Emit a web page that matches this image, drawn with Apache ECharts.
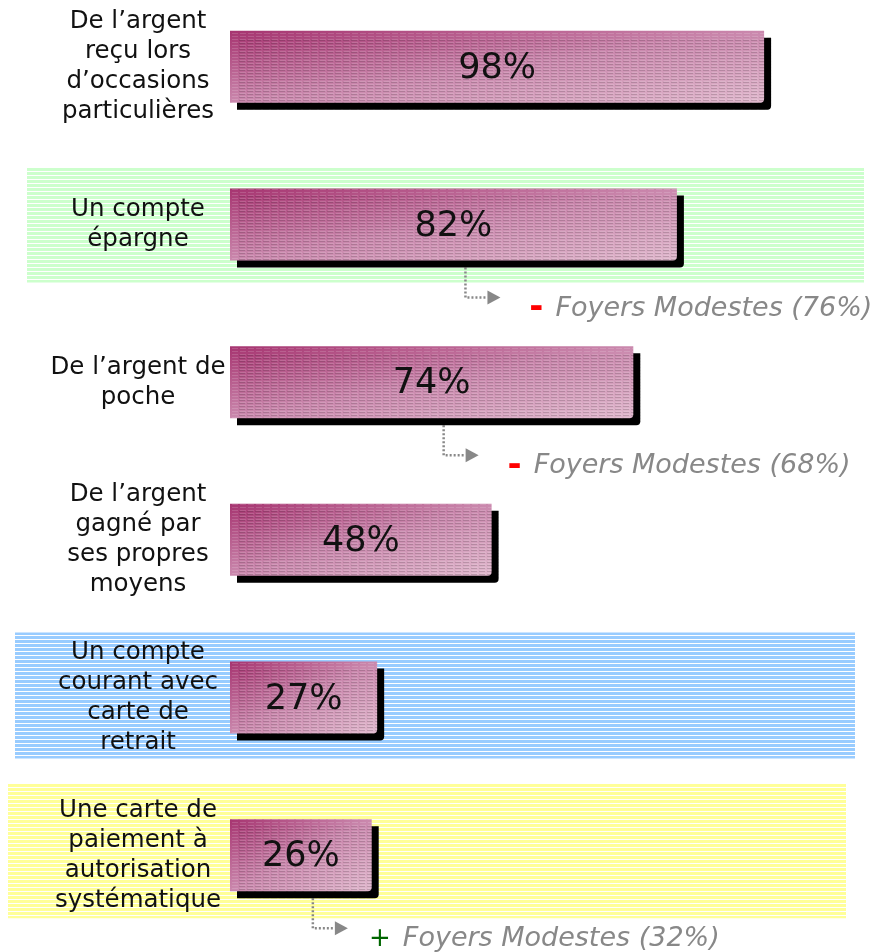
<!DOCTYPE html>
<html lang="fr">
<head>
<meta charset="UTF-8">
<title>Ressources des jeunes</title>
<script src="https://cdn.jsdelivr.net/npm/echarts@6/dist/echarts.min.js"></script>
<style>
    html, body {margin: 0; padding: 0; background: #fff; overflow: hidden;}
    /* shifted up a little so the first row sits as high as in the original */
    #main {position: absolute; left: 0; top: -12px; width: 872px; height: 964px;}
</style>
</head>
<body>
<div id="main"></div>
<script>
// categories (top to bottom) and percentages
var categories = [
    "De l’argent\nreçu lors\nd’occasions\nparticulières",
    "Un compte\népargne",
    "De l’argent de\npoche",
    "De l’argent\ngagné par\nses propres\nmoyens",
    "Un compte\ncourant avec\ncarte de\nretrait",
    "Une carte de\npaiement à\nautorisation\nsystématique"
];
var values = [98, 82, 74, 48, 27, 26];

// "Foyers Modestes" comparisons
var noteRows = [1, 2, 5];
var noteSigns = ['-', '-', '+'];
var noteSignColors = ['#ff0000', '#ff0000', '#006600'];
var noteValues = [76, 68, 32];

// highlighted rows
var bandRows = [1, 4, 5];
var bandColors = ['#ccffcc', '#99ccff', '#ffff99'];
// layout of each band: left, right, top/bottom offset from row centre
var bandBoxes = [[27, 864, -57, 58], [15, 855, -65, 61], [8, 846, -72, 63]];

var barH = 72;
var pxPerPct = 5.45;

function stripes(color) {
    var c = document.createElement('canvas');
    c.width = 4;
    c.height = 4;
    var ctx = c.getContext('2d');
    ctx.fillStyle = '#ffffff';
    ctx.fillRect(0, 0, 4, 4);
    ctx.fillStyle = color;
    ctx.fillRect(0, 0, 4, 3);
    return c;
}

// diagonal gradient: dark top-left corner, light bottom-right corner
function barColor(v) {
    var w = v * pxPerPct, h = barH, d = w * w + h * h;
    return {
        type: 'linear', x: 0, y: 0, x2: 2 * h * h / d, y2: 2 * w * w / d,
        colorStops: [
            {offset: 0, color: '#a63470'},
            {offset: 0.5, color: '#ca88ad'},
            {offset: 1, color: '#e0b8cd'}
        ]
    };
}

var myChart = echarts.init(document.getElementById('main'));

var option = {
    animation: false,
    grid: {left: 230, right: 97, top: 0, bottom: 18},
    xAxis: {type: 'value', min: 0, max: 100, show: false},
    yAxis: {
        type: 'category',
        inverse: true,
        data: categories,
        axisLine: {show: false},
        axisTick: {show: false},
        axisLabel: {
            align: 'center',
            margin: 92,
            fontFamily: 'DejaVu Sans',
            fontSize: 24.5,
            lineHeight: 30,
            color: '#111'
        }
    },
    series: [{
        type: 'bar',
        data: values.map(function (v) {
            return {value: v, itemStyle: {color: barColor(v)}};
        }),
        barWidth: barH,
        z: 5,
        emphasis: {disabled: true},
        itemStyle: {
            borderRadius: [0, 0, 4, 0],
            shadowColor: '#000',
            shadowBlur: 0,
            shadowOffsetX: 7,
            shadowOffsetY: 7,
            decal: {
                symbol: 'rect',
                symbolSize: 1,
                dashArrayX: [6, 2],
                dashArrayY: [1, 2],
                color: 'rgba(255,255,255,0.15)'
            }
        },
        label: {
            show: true,
            position: 'inside',
            offset: [0, 2],
            formatter: '{c}%',
            fontFamily: 'DejaVu Sans',
            fontSize: 35,
            color: '#111'
        }
    }]
};
myChart.setOption(option);

var elements = [];
bandRows.forEach(function (row, i) {
    var cy = myChart.convertToPixel({seriesIndex: 0}, [0, row])[1];
    var b = bandBoxes[i];
    elements.push({
        type: 'rect',
        z: -10,
        silent: true,
        shape: {x: b[0], y: cy + b[2], width: b[1] - b[0], height: b[3] - b[2]},
        style: {fill: {image: stripes(bandColors[i]), repeat: 'repeat'}}
    });
});

noteRows.forEach(function (row, i) {
    var p = myChart.convertToPixel({seriesIndex: 0}, [values[row] / 2, row]);
    var x0 = p[0] + 12, y0 = p[1] + 43, y1 = p[1] + 73;
    var tx = x0 + 90, ty = p[1] + 84;
    var plus = noteSigns[i] === '+';
    elements.push({
        type: 'polyline',
        silent: true,
        shape: {points: [[x0, y0], [x0, y1], [x0 + 22, y1]]},
        style: {stroke: '#888', lineWidth: 2.5, lineDash: [2, 2], fill: null}
    });
    elements.push({
        type: 'polygon',
        silent: true,
        shape: {points: [[x0 + 22, y1 - 7], [x0 + 35, y1], [x0 + 22, y1 + 7]]},
        style: {fill: '#888'}
    });
    elements.push({
        type: 'text',
        silent: true,
        x: tx - 12, y: ty,
        style: {
            text: noteSigns[i],
            fill: noteSignColors[i],
            font: plus ? 'italic 26px "DejaVu Sans"' : 'bold 34px "DejaVu Sans"',
            align: 'right',
            verticalAlign: 'middle'
        }
    });
    elements.push({
        type: 'text',
        silent: true,
        x: tx, y: ty,
        style: {
            text: 'Foyers Modestes (' + noteValues[i] + '%)',
            fill: '#888',
            font: 'italic 27px "DejaVu Sans"',
            verticalAlign: 'middle'
        }
    });
});

myChart.setOption({graphic: {elements: elements}});
</script>
</body>
</html>
